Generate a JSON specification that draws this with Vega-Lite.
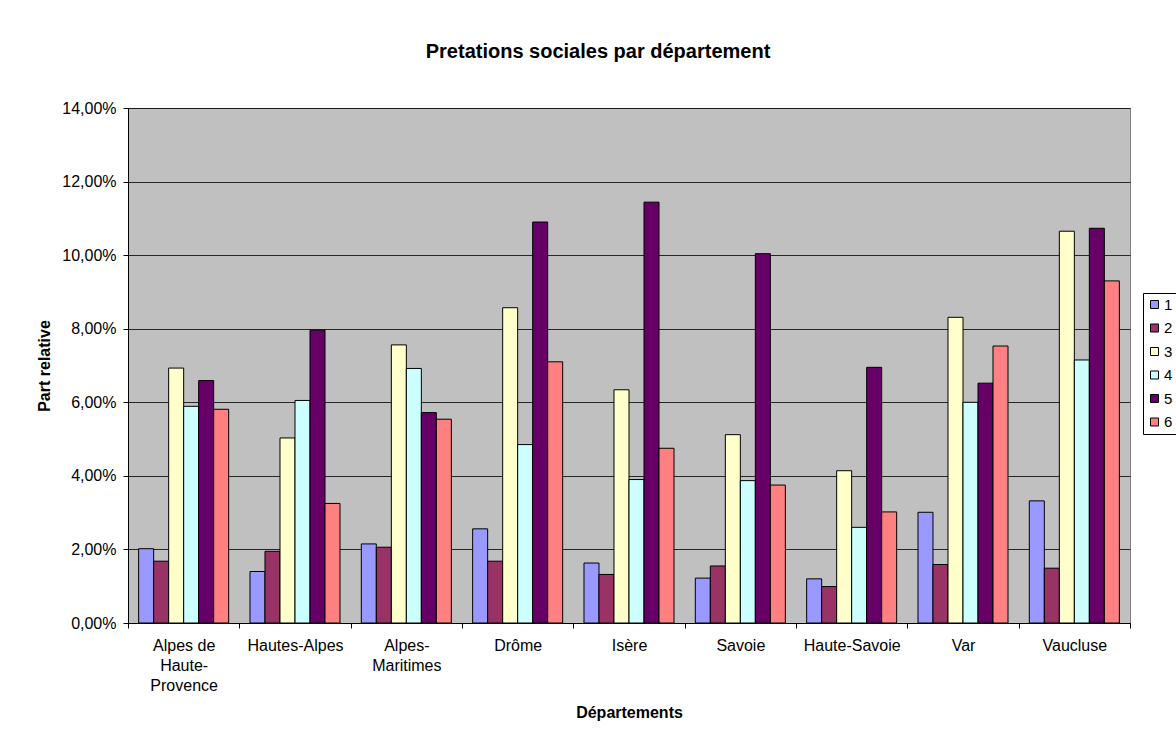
{
  "$schema": "https://vega.github.io/schema/vega-lite/v6.json",
  "width": 1002,
  "height": 515,
  "autosize": {"type": "none"},
  "padding": {"left": 128, "top": 108, "right": 46, "bottom": 117},
  "background": "#ffffff",
  "title": {
    "text": "Pretations sociales par département",
    "font": "Liberation Sans",
    "fontSize": 20,
    "fontWeight": "bold",
    "color": "#000000",
    "anchor": "middle",
    "baseline": "bottom",
    "dx": -31,
    "offset": 18
  },
  "data": {
    "values": [
      {"dept": "Alpes de Haute-Provence", "serie": "1", "part": 0.0202},
      {"dept": "Alpes de Haute-Provence", "serie": "2", "part": 0.0168},
      {"dept": "Alpes de Haute-Provence", "serie": "3", "part": 0.0693},
      {"dept": "Alpes de Haute-Provence", "serie": "4", "part": 0.0589},
      {"dept": "Alpes de Haute-Provence", "serie": "5", "part": 0.0659},
      {"dept": "Alpes de Haute-Provence", "serie": "6", "part": 0.0581},
      {"dept": "Hautes-Alpes", "serie": "1", "part": 0.0140},
      {"dept": "Hautes-Alpes", "serie": "2", "part": 0.0195},
      {"dept": "Hautes-Alpes", "serie": "3", "part": 0.0503},
      {"dept": "Hautes-Alpes", "serie": "4", "part": 0.0605},
      {"dept": "Hautes-Alpes", "serie": "5", "part": 0.0796},
      {"dept": "Hautes-Alpes", "serie": "6", "part": 0.0325},
      {"dept": "Alpes-Maritimes", "serie": "1", "part": 0.0215},
      {"dept": "Alpes-Maritimes", "serie": "2", "part": 0.0206},
      {"dept": "Alpes-Maritimes", "serie": "3", "part": 0.0756},
      {"dept": "Alpes-Maritimes", "serie": "4", "part": 0.0692},
      {"dept": "Alpes-Maritimes", "serie": "5", "part": 0.0572},
      {"dept": "Alpes-Maritimes", "serie": "6", "part": 0.0554},
      {"dept": "Drôme", "serie": "1", "part": 0.0256},
      {"dept": "Drôme", "serie": "2", "part": 0.0168},
      {"dept": "Drôme", "serie": "3", "part": 0.0857},
      {"dept": "Drôme", "serie": "4", "part": 0.0485},
      {"dept": "Drôme", "serie": "5", "part": 0.1090},
      {"dept": "Drôme", "serie": "6", "part": 0.0710},
      {"dept": "Isère", "serie": "1", "part": 0.0163},
      {"dept": "Isère", "serie": "2", "part": 0.0132},
      {"dept": "Isère", "serie": "3", "part": 0.0634},
      {"dept": "Isère", "serie": "4", "part": 0.0390},
      {"dept": "Isère", "serie": "5", "part": 0.1144},
      {"dept": "Isère", "serie": "6", "part": 0.0475},
      {"dept": "Savoie", "serie": "1", "part": 0.0122},
      {"dept": "Savoie", "serie": "2", "part": 0.0155},
      {"dept": "Savoie", "serie": "3", "part": 0.0512},
      {"dept": "Savoie", "serie": "4", "part": 0.0387},
      {"dept": "Savoie", "serie": "5", "part": 0.1004},
      {"dept": "Savoie", "serie": "6", "part": 0.0375},
      {"dept": "Haute-Savoie", "serie": "1", "part": 0.0120},
      {"dept": "Haute-Savoie", "serie": "2", "part": 0.0099},
      {"dept": "Haute-Savoie", "serie": "3", "part": 0.0414},
      {"dept": "Haute-Savoie", "serie": "4", "part": 0.0260},
      {"dept": "Haute-Savoie", "serie": "5", "part": 0.0695},
      {"dept": "Haute-Savoie", "serie": "6", "part": 0.0302},
      {"dept": "Var", "serie": "1", "part": 0.0301},
      {"dept": "Var", "serie": "2", "part": 0.0159},
      {"dept": "Var", "serie": "3", "part": 0.0831},
      {"dept": "Var", "serie": "4", "part": 0.0600},
      {"dept": "Var", "serie": "5", "part": 0.0652},
      {"dept": "Var", "serie": "6", "part": 0.0753},
      {"dept": "Vaucluse", "serie": "1", "part": 0.0332},
      {"dept": "Vaucluse", "serie": "2", "part": 0.0149},
      {"dept": "Vaucluse", "serie": "3", "part": 0.1065},
      {"dept": "Vaucluse", "serie": "4", "part": 0.0715},
      {"dept": "Vaucluse", "serie": "5", "part": 0.1073},
      {"dept": "Vaucluse", "serie": "6", "part": 0.0930}
    ]
  },
  "mark": {"type": "bar", "stroke": "#000000", "strokeWidth": 1},
  "encoding": {
    "x": {
      "field": "dept",
      "type": "nominal",
      "sort": null,
      "scale": {"paddingInner": 0, "paddingOuter": 0},
      "axis": {
        "title": "Départements",
        "titleFont": "Liberation Sans",
        "titleFontSize": 16,
        "titleFontWeight": "bold",
        "titleColor": "#000000",
        "titlePadding": 11,
        "labelAngle": 0,
        "labelFont": "Liberation Sans",
        "labelFontSize": 16,
        "labelColor": "#000000",
        "labelPadding": 9,
        "labelLineHeight": 20,
        "labelExpr": "datum.value == 'Alpes de Haute-Provence' ? ['Alpes de', 'Haute-', 'Provence'] : datum.value == 'Alpes-Maritimes' ? ['Alpes-', 'Maritimes'] : datum.value",
        "tickBand": "extent",
        "tickSize": 5,
        "tickColor": "#000000",
        "domainColor": "#000000",
        "grid": false
      }
    },
    "xOffset": {
      "field": "serie",
      "type": "nominal",
      "scale": {"paddingInner": 0, "paddingOuter": 0.71}
    },
    "y": {
      "field": "part",
      "type": "quantitative",
      "scale": {"domain": [0, 0.14], "nice": false},
      "axis": {
        "title": "Part relative",
        "titleFont": "Liberation Sans",
        "titleFontSize": 16,
        "titleFontWeight": "bold",
        "titleColor": "#000000",
        "titlePadding": 9,
        "values": [0, 0.02, 0.04, 0.06, 0.08, 0.1, 0.12, 0.14],
        "labelExpr": "replace(format(datum.value, '.2%'), '.', ',')",
        "labelFont": "Liberation Sans",
        "labelFontSize": 16,
        "labelColor": "#000000",
        "labelPadding": 7,
        "tickSize": 5,
        "tickColor": "#000000",
        "domainColor": "#000000",
        "grid": true,
        "gridColor": "#000000",
        "gridWidth": 1,
        "gridOpacity": 0.8
      }
    },
    "color": {
      "field": "serie",
      "type": "nominal",
      "scale": {
        "domain": ["1", "2", "3", "4", "5", "6"],
        "range": ["#9999FF", "#993366", "#FFFFCC", "#CCFFFF", "#660066", "#FF8080"]
      },
      "legend": {
        "title": null,
        "orient": "none",
        "legendX": 1015,
        "legendY": 185,
        "strokeColor": "#000000",
        "padding": 4,
        "fillColor": "#ffffff",
        "symbolType": "square",
        "symbolSize": 64,
        "symbolStrokeColor": "#000000",
        "symbolStrokeWidth": 1,
        "symbolOpacity": 1,
        "labelFont": "Liberation Sans",
        "labelFontSize": 15,
        "labelColor": "#000000",
        "labelOffset": 2,
        "rowPadding": 7.5
      }
    }
  },
  "config": {
    "view": {"fill": "#c0c0c0", "stroke": "#808080", "strokeWidth": 1}
  }
}
